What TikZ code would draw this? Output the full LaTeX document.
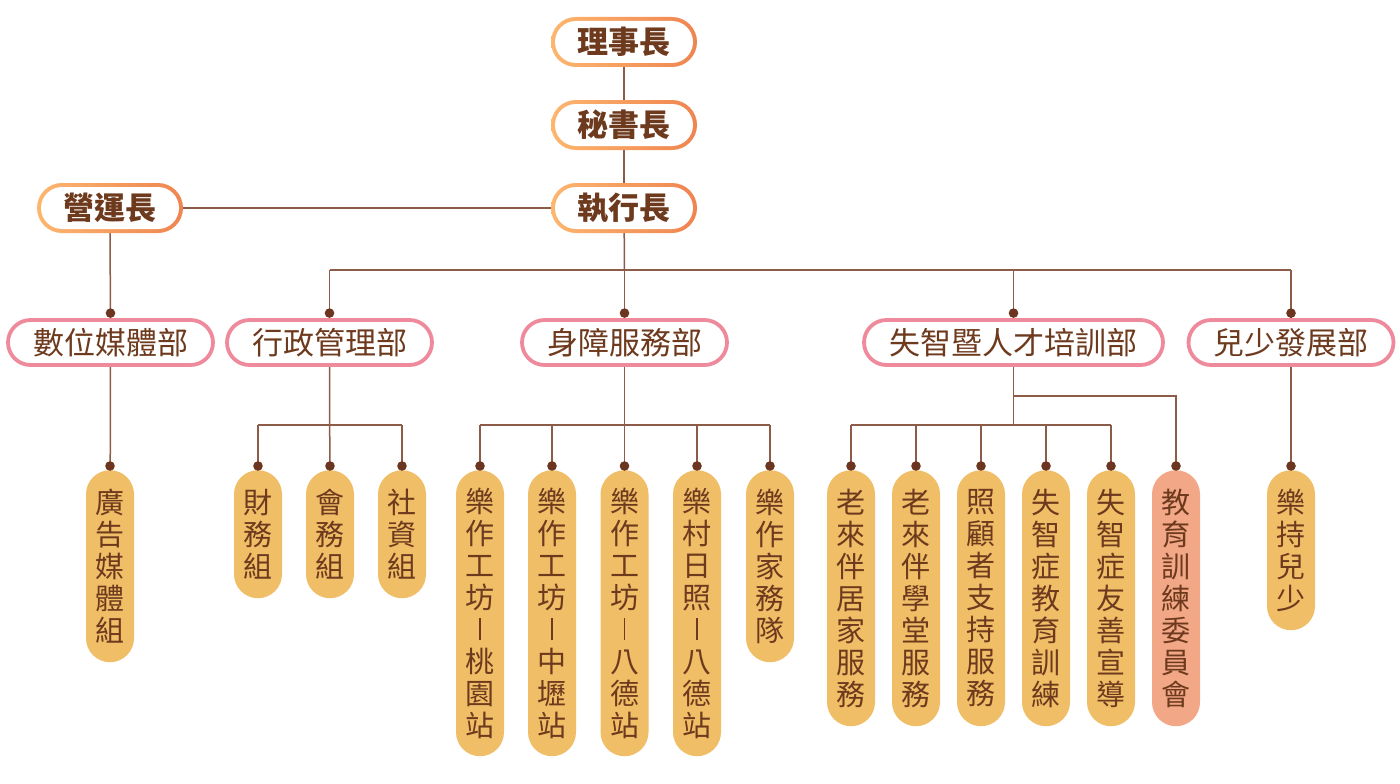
\documentclass[tikz,border=0pt]{standalone}
\usepackage{fontspec}
\newfontfamily\cjk{Noto Sans CJK TC}
\usetikzlibrary{calc}
\definecolor{orL}{HTML}{FDB66E}
\definecolor{orR}{HTML}{EF8450}
\definecolor{pinkc}{HTML}{EE8A9B}
\definecolor{goldc}{HTML}{F0BE67}
\definecolor{salmc}{HTML}{F2A886}
\definecolor{txtc}{HTML}{6E3A1E}
\definecolor{linec}{HTML}{8C5C48}
\definecolor{dotc}{HTML}{6B3520}
\pgfdeclarelayer{bg}
\pgfsetlayers{bg,main}
\newcommand\myvbar{\rule{1.5pt}{22pt}}
\tikzset{
  ring/.style={rectangle, draw=none, inner sep=0pt, minimum width=146pt, minimum height=50pt, rounded corners=25pt, left color=orL, right color=orR},
  topbox/.style={rectangle, fill=white, inner sep=0pt, minimum width=138pt, minimum height=42pt, rounded corners=21pt, text=txtc, font=\cjk\bfseries\fontsize{31}{34}\selectfont},
  dept/.style={rectangle, draw=pinkc, line width=3.8pt, fill=white, inner sep=0pt, minimum width=205pt, minimum height=45pt, rounded corners=22.5pt, text=txtc, font=\cjk\fontsize{31}{34}\selectfont},
  pill/.style={rectangle, anchor=north, fill=goldc, inner sep=0pt, minimum width=48pt, rounded corners=24pt, align=center, text=txtc, font=\cjk\fontsize{29}{32}\selectfont},
  conn/.style={draw=linec, line width=1.5pt},
  dot/.style={fill=dotc},
}
\begin{document}
\begin{tikzpicture}[x=1pt,y=-1pt]
\useasboundingbox (0,0) rectangle (1400,784);
% top boxes
\node[ring] at (624,42) {};
\node[topbox] (r1) at (624,42) {理事長};
\node[ring] at (624,125) {};
\node[topbox] (r2) at (624,125) {秘書長};
\node[ring] at (624,208) {};
\node[topbox] (ex) at (624,208) {執行長};
\node[ring] at (110,208) {};
\node[topbox] (yy) at (110,208) {營運長};
% departments
\node[dept] (d1) at (110.5,342.5) {數位媒體部};
\node[dept] (d2) at (329.5,342.5) {行政管理部};
\node[dept] (d3) at (624.5,342.5) {身障服務部};
\node[dept, minimum width=299pt] (d4) at (1013.5,342.5) {失智暨人才培訓部};
\node[dept] (d5) at (1291,342.5) {兒少發展部};
% pills
\node[pill, minimum height=192pt] (g1) at (110,470) {廣\\告\\媒\\體\\組};
\node[pill, minimum height=128pt] (a1) at (258,470) {財\\務\\組};
\node[pill, minimum height=128pt] (a2) at (330,470) {會\\務\\組};
\node[pill, minimum height=128pt] (a3) at (402,470) {社\\資\\組};
\node[pill, minimum height=286pt] (s1) at (480,470) {樂\\作\\工\\坊\\\myvbar\\桃\\園\\站};
\node[pill, minimum height=286pt] (s2) at (552,470) {樂\\作\\工\\坊\\\myvbar\\中\\壢\\站};
\node[pill, minimum height=286pt] (s3) at (624.5,470) {樂\\作\\工\\坊\\\myvbar\\八\\德\\站};
\node[pill, minimum height=286pt] (s4) at (697,470) {樂\\村\\日\\照\\\myvbar\\八\\德\\站};
\node[pill, minimum height=192pt] (s5) at (770,470) {樂\\作\\家\\務\\隊};
\node[pill, minimum height=256pt] (t1) at (851,470) {老\\來\\伴\\居\\家\\服\\務};
\node[pill, minimum height=256pt] (t2) at (916,470) {老\\來\\伴\\學\\堂\\服\\務};
\node[pill, minimum height=256pt] (t3) at (981,470) {照\\顧\\者\\支\\持\\服\\務};
\node[pill, minimum height=256pt] (t4) at (1046,470) {失\\智\\症\\教\\育\\訓\\練};
\node[pill, minimum height=256pt] (t5) at (1111,470) {失\\智\\症\\友\\善\\宣\\導};
\node[pill, minimum height=256pt, fill=salmc] (t6) at (1176,470) {教\\育\\訓\\練\\委\\員\\會};
\node[pill, minimum height=160pt] (k1) at (1291,470) {樂\\持\\兒\\少};
% connectors
\coordinate (b0) at (624.5,270);
\coordinate (b2) at (330,425);
\coordinate (b4) at (1013.5,425);
\coordinate (b4a) at (1013.5,396);
\begin{pgfonlayer}{bg}
\fill[white] (0,0) rectangle (1400,784);
\draw[conn] (r1) -- (r2);
\draw[conn] (r2) -- (ex);
\draw[conn] (yy) -- (ex);
\draw[conn] (ex) -- (b0);
\draw[conn] (d2.north |- b0) -- (d5.north |- b0);
\foreach \d in {d2,d3,d4,d5}{\draw[conn] (\d.north |- b0) -- (\d.north);}
\draw[conn] (yy) -- (d1);
\draw[conn] (d1) -- (g1);
\draw[conn] (d2) -- (a2);
\draw[conn] (a1.north |- b2) -- (a3.north |- b2);
\draw[conn] (a1.north |- b2) -- (a1.north);
\draw[conn] (a3.north |- b2) -- (a3.north);
\draw[conn] (d3) -- (s3);
\draw[conn] (s1.north |- b2) -- (s5.north |- b2);
\foreach \s in {s1,s2,s4,s5}{\draw[conn] (\s.north |- b2) -- (\s.north);}
\draw[conn] (d4) -- (b4);
\draw[conn] (t1.north |- b4) -- (t5.north |- b4);
\foreach \s in {t1,t2,t3,t4,t5}{\draw[conn] (\s.north |- b4) -- (\s.north);}
\draw[conn] (b4a) -| (t6.north);
\draw[conn] (d5) -- (k1);
\end{pgfonlayer}
% dots
\foreach \d in {d1,d2,d3,d4,d5}{\fill[dot] ($(\d.north)+(0,-5)$) circle (4.8pt);}
\foreach \p in {g1,a1,a2,a3,s1,s2,s3,s4,s5,t1,t2,t3,t4,t5,t6,k1}{\fill[dot] ($(\p.north)+(0,-4)$) circle (4.8pt);}
\end{tikzpicture}
\end{document}
